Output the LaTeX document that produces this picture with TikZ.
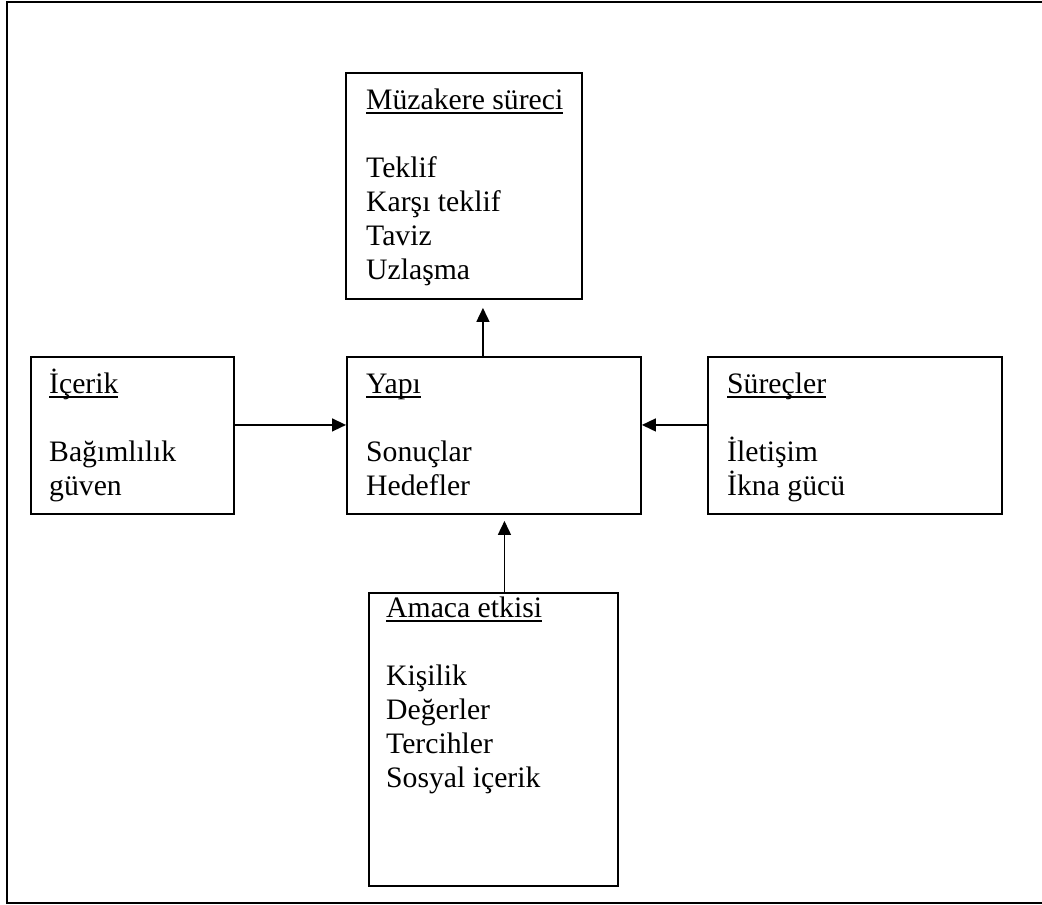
\documentclass[tikz,border=0pt]{standalone}
\usepackage{fontspec}
\setmainfont{Liberation Serif}
\usetikzlibrary{arrows.meta}

% underlined heading: a rule set a little below the baseline
\newcommand\hdrline[1]{\setbox0=\hbox{#1}\rlap{\rule[-5pt]{\wd0}{1.7pt}}\box0}
% left-aligned lines with a fixed baseline distance; the baseline is the first line's
\newcommand\boxlines[1]{\vtop{\baselineskip=34pt\lineskiplimit=-30pt\lineskip=0pt
  \halign{##\hfil\cr#1\crcr}}}

\tikzset{
  frame/.style={draw=black, line width=2pt},
  card/.style={draw=black, line width=1.9pt, anchor=north west, inner sep=0pt},
  txt/.style={anchor=base west, inner sep=0pt, font=\fontsize{29.7}{34}\selectfont},
  arr/.style={line width=1.5pt, -{Triangle[length=14pt,width=13pt]}},
}

\begin{document}
\begin{tikzpicture}[x=1pt, y=-1pt]
\useasboundingbox (0,0) rectangle (1042,905);
\begin{scope}
\clip (0,0) rectangle (1042,905);
\draw[frame] (7,2) rectangle (1047,903);
\end{scope}

% boxes
\node[card, minimum width=236pt, minimum height=226pt] (muz) at (345,72) {};
\node[card, minimum width=203pt, minimum height=157pt] (ice) at (30,356) {};
\node[card, minimum width=294pt, minimum height=157pt] (yap) at (346,356) {};
\node[card, minimum width=294pt, minimum height=157pt] (sur) at (707,356) {};
\node[card, minimum width=249pt, minimum height=293pt] (ama) at (368,592) {};

% box texts
\node[txt] (muzt) at ([xshift=21pt,yshift=-37pt]muz.north west)
  {\boxlines{\hdrline{Müzakere süreci}\cr\cr Teklif\cr Karşı teklif\cr Taviz\cr Uzlaşma}};
\node[txt] (icet) at ([xshift=19pt,yshift=-37pt]ice.north west)
  {\boxlines{\hdrline{İçerik}\cr\cr Bağımlılık\cr güven}};
\node[txt] (yapt) at ([xshift=20pt,yshift=-37pt]yap.north west)
  {\boxlines{\hdrline{Yapı}\cr\cr Sonuçlar\cr Hedefler}};
\node[txt] (surt) at ([xshift=20pt,yshift=-37pt]sur.north west)
  {\boxlines{\hdrline{Süreçler}\cr\cr İletişim\cr İkna gücü}};
\node[txt] (amat) at ([xshift=18pt,yshift=-25pt]ama.north west)
  {\boxlines{\hdrline{Amaca etkisi}\cr\cr Kişilik\cr Değerler\cr Tercihler\cr Sosyal içerik}};

% connectors
\draw[arr] ([yshift=10.5pt]ice.east) -- ([yshift=10.5pt]yap.west);
\draw[arr] ([yshift=10.5pt]sur.west) -- ([yshift=10.5pt]yap.east);
\draw[arr, shorten >=8pt] ([xshift=-11pt]yap.north) -- ([xshift=-11pt]yap.north |- muz.south);
\draw[arr, shorten >=6pt] ([xshift=11pt]ama.north) -- ([xshift=11pt]ama.north |- yap.south);
\end{tikzpicture}
\end{document}
